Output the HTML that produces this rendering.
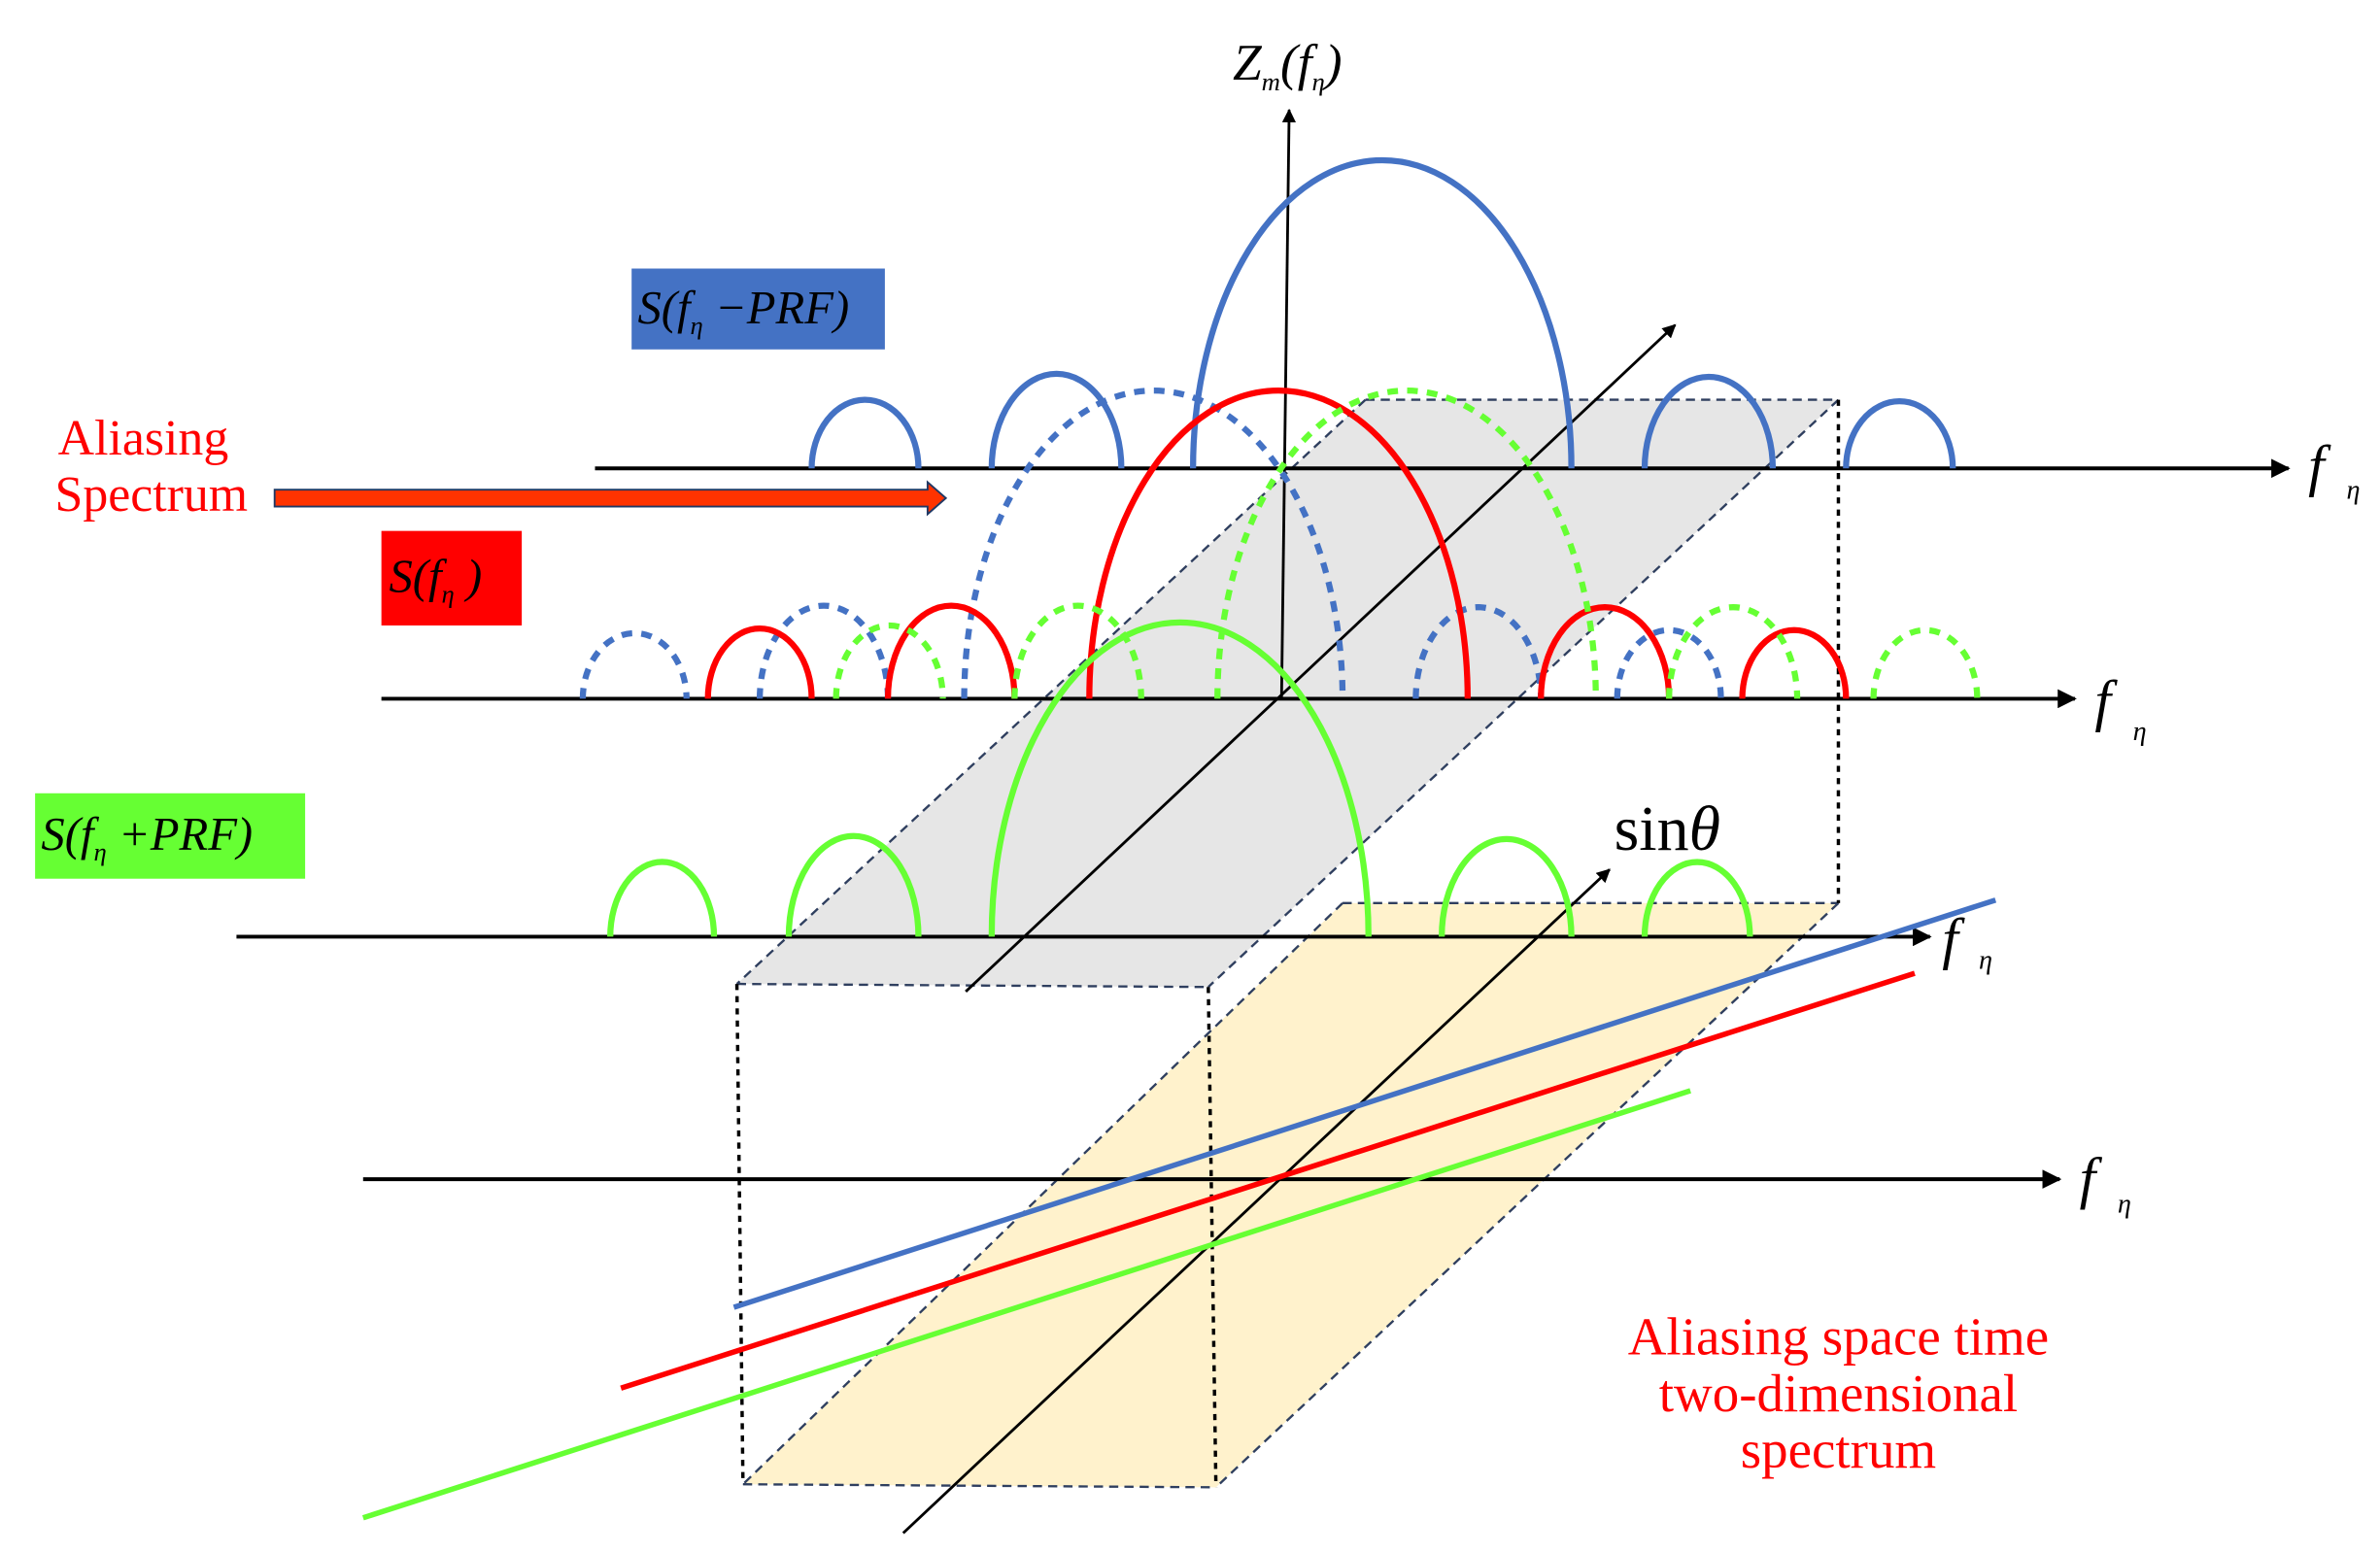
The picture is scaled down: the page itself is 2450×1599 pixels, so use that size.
<!DOCTYPE html>
<html><head><meta charset="utf-8"><style>
html,body{margin:0;padding:0;background:#fff;}
svg{display:block;}
text{font-family:"Liberation Serif",serif;}
</style></head><body>
<svg width="2450" height="1599" viewBox="0 0 1560 1018" xmlns="http://www.w3.org/2000/svg">
<defs>
<marker id="ah" viewBox="0 0 10 10" refX="9" refY="5" markerWidth="5" markerHeight="5" orient="auto" markerUnits="strokeWidth"><path d="M0,0 L10,5 L0,10 z" fill="#000"/></marker>
</defs>
<polygon points="895,262 1205,262 792,647 483,645" fill="#e6e6e6"/>
<polygon points="880,592 1205,592 797,975 487,973" fill="#fff2cc"/>
<g fill="none" stroke="#2f3f5f" stroke-width="1.5" stroke-dasharray="6,4">
<line x1="895" y1="262" x2="1205" y2="262"/>
<line x1="1205" y1="262" x2="792" y2="647"/>
<line x1="895" y1="262" x2="483" y2="645"/>
<line x1="483" y1="645" x2="792" y2="647"/>
<line x1="880" y1="592" x2="1205" y2="592"/>
<line x1="1205" y1="592" x2="797" y2="975"/>
<line x1="880" y1="592" x2="487" y2="973"/>
<line x1="487" y1="973" x2="797" y2="975"/>
</g>
<g fill="none" stroke="#000" stroke-width="2.2" stroke-dasharray="4,4">
<line x1="1205" y1="262" x2="1205" y2="592"/>
<line x1="483" y1="645" x2="487" y2="973"/>
<line x1="792" y1="647" x2="797" y2="975"/>
</g>
<g stroke="#000" stroke-width="2.5" fill="none">
<line x1="390" y1="307" x2="1500" y2="307" marker-end="url(#ah)"/>
<line x1="250" y1="458" x2="1360" y2="458" marker-end="url(#ah)"/>
<line x1="155" y1="614" x2="1265" y2="614" marker-end="url(#ah)"/>
<line x1="238" y1="773" x2="1350" y2="773" marker-end="url(#ah)"/>
</g>
<g stroke="#000" stroke-width="1.8" fill="none">
<line x1="840" y1="458" x2="845" y2="72" marker-end="url(#ah)"/>
<line x1="633" y1="650" x2="1098" y2="213" marker-end="url(#ah)"/>
<line x1="592" y1="1005" x2="1055" y2="570" marker-end="url(#ah)"/>
</g>
<g fill="none" stroke-width="4">
<g stroke="#4472c4">
<path d="M532,307 A35,45 0 0 1 602,307"/>
<path d="M650,307 A42.5,62 0 0 1 735,307"/>
<path d="M782,307 A124,202 0 0 1 1030,307"/>
<path d="M1078,307 A42,60 0 0 1 1162,307"/>
<path d="M1210,307 A35,44 0 0 1 1280,307"/>
</g>
<g stroke="#4472c4" stroke-dasharray="7,6">
<path d="M632,458 A124,202 0 0 1 880,458"/>
<path d="M382,458 A34,43 0 0 1 450,458"/>
<path d="M498,458 A42,61 0 0 1 582,458"/>
<path d="M928,458 A41,60 0 0 1 1010,458"/>
<path d="M1060,458 A34,45 0 0 1 1128,458"/>
</g>
<g stroke="#ff0000">
<path d="M714,458 A124,202 0 0 1 962,458"/>
<path d="M464,458 A34,46 0 0 1 532,458"/>
<path d="M582,458 A41.5,61 0 0 1 665,458"/>
<path d="M1010,458 A42,60 0 0 1 1094,458"/>
<path d="M1142,458 A34,45 0 0 1 1210,458"/>
</g>
<g stroke="#66ff33" stroke-dasharray="7,6">
<path d="M798,458 A124,202 0 0 1 1046,458"/>
<path d="M548,458 A35,48 0 0 1 618,458"/>
<path d="M665,458 A41.5,61 0 0 1 748,458"/>
<path d="M1094,458 A42,60 0 0 1 1178,458"/>
<path d="M1228,458 A34,45 0 0 1 1296,458"/>
</g>
<g stroke="#66ff33">
<path d="M650,614 A123.5,206 0 0 1 897,614"/>
<path d="M400,614 A34,49 0 0 1 468,614"/>
<path d="M517,614 A42.5,66 0 0 1 602,614"/>
<path d="M945,614 A42.5,64 0 0 1 1030,614"/>
<path d="M1078,614 A34.5,49 0 0 1 1147,614"/>
</g>
</g>
<g stroke-width="3.5">
<line x1="481" y1="857" x2="1308" y2="590" stroke="#4472c4"/>
<line x1="407" y1="910" x2="1255" y2="638" stroke="#ff0000"/>
<line x1="238" y1="995" x2="1108" y2="715" stroke="#66ff33"/>
</g>
<rect x="414" y="176" width="166" height="53" fill="#4472c4"/>
<text x="418" y="212" font-size="31" font-style="italic">S(f<tspan font-size="17" dy="7">η</tspan><tspan dy="-7"> −PRF)</tspan></text>
<rect x="250" y="348" width="92" height="62" fill="#ff0000"/>
<text x="255" y="388" font-size="31" font-style="italic">S(f<tspan font-size="17" dy="7">η</tspan><tspan dy="-7"> )</tspan></text>
<rect x="23" y="520" width="177" height="56" fill="#66ff33"/>
<text x="27" y="557" font-size="31" font-style="italic">S(f<tspan font-size="17" dy="7">η</tspan><tspan dy="-7"> +PRF)</tspan></text>
<polygon points="180,321 608,321 608,316 620,326.5 608,337 608,332 180,332" fill="#ff3300" stroke="#1f3864" stroke-width="1.2"/>
<text x="38" y="298" font-size="33" fill="#ff0000">Aliasing</text>
<text x="36" y="335" font-size="33" fill="#ff0000">Spectrum</text>
<text x="1205" y="888" font-size="35" fill="#ff0000" text-anchor="middle">Aliasing space time</text>
<text x="1205" y="925" font-size="35" fill="#ff0000" text-anchor="middle">two-dimensional</text>
<text x="1205" y="962" font-size="35" fill="#ff0000" text-anchor="middle">spectrum</text>
<text x="808" y="52" font-size="34" font-style="italic">Z<tspan font-size="17" dy="7">m</tspan><tspan dy="-7">(f</tspan><tspan font-size="17" dy="7">η</tspan><tspan dy="-7">)</tspan></text>
<text x="1058" y="557" font-size="42">sin<tspan font-style="italic">θ</tspan></text>
<g font-style="italic">
<text x="1513" y="318" font-size="38">f</text><text x="1538" y="327" font-size="18">η</text>
<text x="1373" y="472" font-size="38">f</text><text x="1398" y="485" font-size="18">η</text>
<text x="1273" y="628" font-size="38">f</text><text x="1297" y="635" font-size="18">η</text>
<text x="1363" y="785" font-size="38">f</text><text x="1388" y="795" font-size="18">η</text>
</g>
</svg>
</body></html>
